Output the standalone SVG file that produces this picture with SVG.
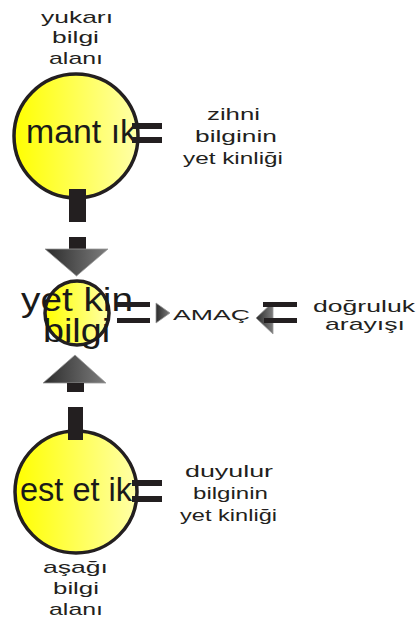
<svg xmlns="http://www.w3.org/2000/svg" width="417" height="620" viewBox="0 0 417 620">
<defs>
<linearGradient id="yel" x1="0" y1="0" x2="1" y2="0"><stop offset="0" stop-color="#ffff00"/><stop offset="1" stop-color="#ffffa8"/></linearGradient>
<linearGradient id="gray" x1="0" y1="0" x2="1" y2="0"><stop offset="0" stop-color="#2b2b2b"/><stop offset="1" stop-color="#7d7d7d"/></linearGradient>
<style>
.circ{fill:url(#yel);stroke:#231f20;stroke-width:3.5}
.bar{fill:#231f20}
.tri{fill:url(#gray);stroke:#9a9a9a;stroke-width:0.8}
.big{font-family:"Liberation Sans",Arial,sans-serif;font-size:34px;fill:#1a1a1a}
.sm{font-family:"Liberation Sans",Arial,sans-serif;font-size:17px;fill:#231f20}
</style>
</defs>
<g id="node-mantik">
<circle class="circ" cx="76" cy="136" r="62"/>
<text class="big" x="26" y="143" textLength="111" lengthAdjust="spacingAndGlyphs">mant ık</text>
</g>
<g id="node-yetkin">
<circle class="circ" cx="77" cy="313" r="32"/>
<text class="big" x="21" y="311" textLength="112" lengthAdjust="spacingAndGlyphs">yet kin</text>
<text class="big" x="43" y="342" textLength="67" lengthAdjust="spacingAndGlyphs">bilgi</text>
</g>
<g id="node-estetik">
<circle class="circ" cx="76" cy="492" r="61"/>
<text class="big" x="20" y="501" textLength="112" lengthAdjust="spacingAndGlyphs">est et ik</text>
</g>
<g id="node-amac">
<text class="sm" style="font-size:15px" x="173" y="320" textLength="77" lengthAdjust="spacingAndGlyphs">AMAÇ</text>
</g>
<g id="label-yukari">
<text class="sm" x="41" y="23" textLength="72" lengthAdjust="spacingAndGlyphs">yukarı</text>
<text class="sm" x="52" y="43" textLength="47" lengthAdjust="spacingAndGlyphs">bilgi</text>
<text class="sm" x="49" y="64" textLength="54" lengthAdjust="spacingAndGlyphs">alanı</text>
</g>
<g id="label-zihni">
<text class="sm" x="207" y="120" textLength="53" lengthAdjust="spacingAndGlyphs">zihni</text>
<text class="sm" x="195" y="142" textLength="82" lengthAdjust="spacingAndGlyphs">bilginin</text>
<text class="sm" x="183" y="164" textLength="100" lengthAdjust="spacingAndGlyphs">yet kinliği</text>
</g>
<g id="label-duyulur">
<text class="sm" x="185" y="477" textLength="88" lengthAdjust="spacingAndGlyphs">duyulur</text>
<text class="sm" x="193" y="499" textLength="75" lengthAdjust="spacingAndGlyphs">bilginin</text>
<text class="sm" x="180" y="521" textLength="97" lengthAdjust="spacingAndGlyphs">yet kinliği</text>
</g>
<g id="label-asagi">
<text class="sm" x="43" y="573" textLength="65" lengthAdjust="spacingAndGlyphs">aşağı</text>
<text class="sm" x="53" y="594" textLength="46" lengthAdjust="spacingAndGlyphs">bilgi</text>
<text class="sm" x="49" y="615" textLength="54" lengthAdjust="spacingAndGlyphs">alanı</text>
</g>
<g id="node-dogruluk">
<text class="sm" x="313" y="312" textLength="102" lengthAdjust="spacingAndGlyphs">doğruluk</text>
<text class="sm" x="325" y="330" textLength="80" lengthAdjust="spacingAndGlyphs">arayışı</text>
</g>
<g id="connectors">
<rect class="bar" x="132" y="123" width="30" height="6"/>
<rect class="bar" x="132" y="137" width="30" height="6"/>
<rect class="bar" x="132" y="480" width="30" height="6"/>
<rect class="bar" x="132" y="496" width="30" height="6"/>
<rect class="bar" x="69" y="189" width="17" height="33"/>
<rect class="bar" x="69" y="237" width="17" height="12"/>
<polygon class="tri" points="45,249 108,249 76.5,276"/>
<polygon class="tri" points="43,383 106,383 75,355"/>
<rect class="bar" x="67" y="383" width="17" height="9"/>
<rect class="bar" x="68" y="407" width="15" height="33"/>
<rect class="bar" x="117" y="302" width="33" height="5"/>
<rect class="bar" x="117" y="318" width="33" height="5"/>
<polygon class="tri" points="156,303 156,323 170,313"/>
<polygon class="tri" points="256,318 273,302 273,334"/>
<rect class="bar" x="263" y="302" width="34" height="5"/>
<rect class="bar" x="264" y="318" width="33" height="5"/>
</g>
</svg>
